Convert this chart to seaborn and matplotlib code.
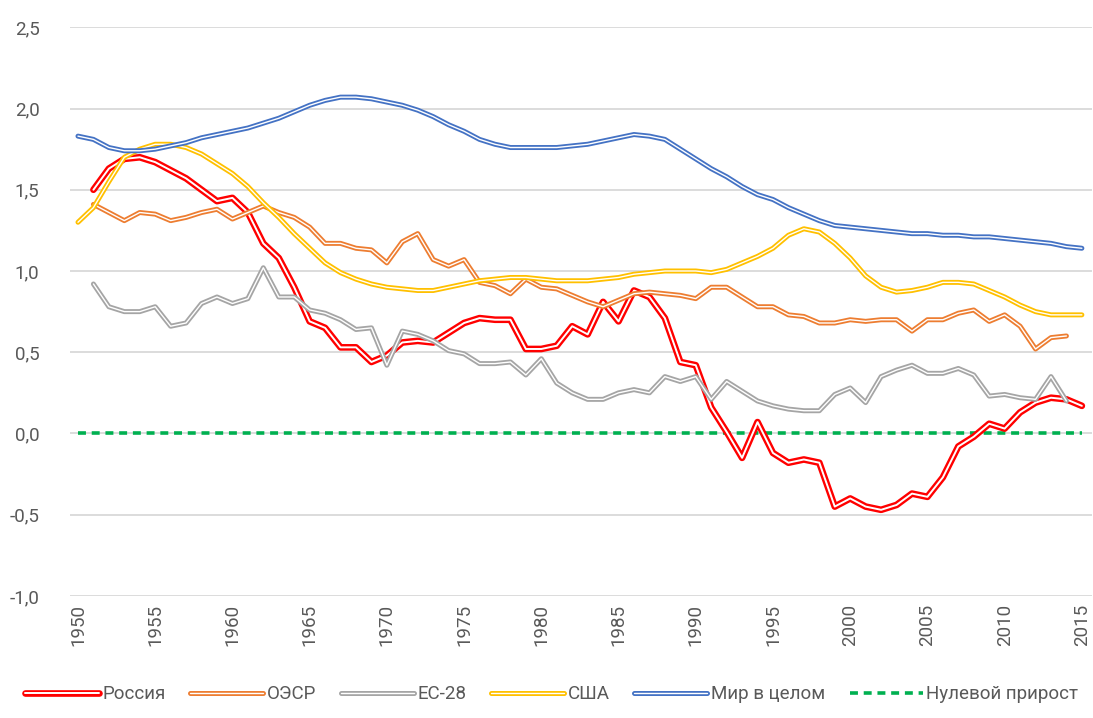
import numpy as np
import pandas as pd
import matplotlib
matplotlib.use("Agg")
import matplotlib.pyplot as plt
import matplotlib.patheffects as pe
import seaborn as sns

years = list(range(1950, 2016))

russia = [np.nan,
          1.50, 1.63, 1.69, 1.70, 1.67, 1.62, 1.57, 1.50, 1.43, 1.45,
          1.36, 1.17, 1.08, 0.90, 0.69, 0.65, 0.53, 0.53, 0.44, 0.48,
          0.56, 0.57, 0.56, 0.62, 0.68, 0.71, 0.70, 0.70, 0.52, 0.52,
          0.54, 0.66, 0.61, 0.81, 0.69, 0.88, 0.84, 0.71, 0.44, 0.42,
          0.16, 0.01, -0.15, 0.07, -0.12, -0.18, -0.16, -0.18, -0.45, -0.40,
          -0.45, -0.47, -0.44, -0.37, -0.39, -0.27, -0.08, -0.02, 0.06, 0.03,
          0.13, 0.19, 0.22, 0.21, 0.17]

oecd = [np.nan,
        1.41, 1.36, 1.31, 1.36, 1.35, 1.31, 1.33, 1.36, 1.38, 1.32,
        1.36, 1.40, 1.36, 1.33, 1.27, 1.17, 1.17, 1.14, 1.13, 1.05,
        1.18, 1.23, 1.07, 1.03, 1.07, 0.93, 0.91, 0.86, 0.95, 0.90,
        0.89, 0.85, 0.81, 0.78, 0.82, 0.86, 0.87, 0.86, 0.85, 0.83,
        0.90, 0.90, 0.84, 0.78, 0.78, 0.73, 0.72, 0.68, 0.68, 0.70,
        0.69, 0.70, 0.70, 0.63, 0.70, 0.70, 0.74, 0.76, 0.69, 0.73,
        0.66, 0.52, 0.59, 0.60, np.nan]

eu28 = [np.nan,
        0.92, 0.78, 0.75, 0.75, 0.78, 0.66, 0.68, 0.80, 0.84, 0.80,
        0.83, 1.02, 0.84, 0.84, 0.76, 0.74, 0.70, 0.64, 0.65, 0.42,
        0.63, 0.61, 0.57, 0.51, 0.49, 0.43, 0.43, 0.44, 0.36, 0.46,
        0.31, 0.25, 0.21, 0.21, 0.25, 0.27, 0.25, 0.35, 0.32, 0.35,
        0.21, 0.32, 0.26, 0.20, 0.17, 0.15, 0.14, 0.14, 0.24, 0.28,
        0.19, 0.35, 0.39, 0.42, 0.37, 0.37, 0.40, 0.36, 0.23, 0.24,
        0.22, 0.21, 0.35, 0.20, np.nan]

usa = [1.30,
       1.39, 1.55, 1.70, 1.75, 1.78, 1.78, 1.76, 1.72, 1.66, 1.60,
       1.52, 1.42, 1.33, 1.23, 1.14, 1.05, 0.99, 0.95, 0.92, 0.90,
       0.89, 0.88, 0.88, 0.90, 0.92, 0.94, 0.95, 0.96, 0.96, 0.95,
       0.94, 0.94, 0.94, 0.95, 0.96, 0.98, 0.99, 1.00, 1.00, 1.00,
       0.99, 1.01, 1.05, 1.09, 1.14, 1.22, 1.26, 1.24, 1.17, 1.08,
       0.97, 0.90, 0.87, 0.88, 0.90, 0.93, 0.93, 0.92, 0.88, 0.84,
       0.79, 0.75, 0.73, 0.73, 0.73]

world = [1.83,
         1.81, 1.76, 1.74, 1.74, 1.75, 1.77, 1.79, 1.82, 1.84, 1.86,
         1.88, 1.91, 1.94, 1.98, 2.02, 2.05, 2.07, 2.07, 2.06, 2.04,
         2.02, 1.99, 1.95, 1.90, 1.86, 1.81, 1.78, 1.76, 1.76, 1.76,
         1.76, 1.77, 1.78, 1.80, 1.82, 1.84, 1.83, 1.81, 1.75, 1.69,
         1.63, 1.58, 1.52, 1.47, 1.44, 1.39, 1.35, 1.31, 1.28, 1.27,
         1.26, 1.25, 1.24, 1.23, 1.23, 1.22, 1.22, 1.21, 1.21, 1.20,
         1.19, 1.18, 1.17, 1.15, 1.14]

zero_growth = [0.0] * len(years)

series_names = ["Россия", "ОЭСР", "ЕС-28", "США", "Мир в целом"]
series_values = [russia, oecd, eu28, usa, world]
series_colors = ["#ff0000", "#ed7d31", "#a5a5a5", "#ffc000", "#4472c4"]
x_ticks = list(range(1950, 2016, 5))
y_ticks = [-1.0, -0.5, 0.0, 0.5, 1.0, 1.5, 2.0, 2.5]

sns.set_style("white")
plt.rcParams["font.family"] = ["Roboto", "DejaVu Sans"]

fig = plt.figure(figsize=(10.93, 7.18), dpi=100)
ax = fig.add_axes([0.064, 0.170, 0.935, 0.792])

# horizontal grid behind everything
for yv in y_ticks:
    ax.axhline(yv, color="#d9d9d9", lw=1.3, zorder=0)

sns.lineplot(x=years, y=zero_growth, ax=ax, color="#00b050", lw=2.6,
             linestyle=(0, (2.2, 1.6)), label="Нулевой прирост", zorder=2)

# Excel-style "double" lines: coloured stroke with a thin white core
for name, vals, col in zip(series_names, series_values, series_colors):
    outer = 4.8 if name == "Россия" else 3.6
    inner = 1.4 if name == "Россия" else 1.0
    df = pd.DataFrame({"year": years, "value": vals}).dropna()
    sns.lineplot(data=df, x="year", y="value", ax=ax, color="white", lw=inner,
                 label=name, zorder=3,
                 path_effects=[pe.Stroke(linewidth=outer, foreground=col),
                               pe.Normal()])

ax.set_xlim(1949.48, 2015.65)
ax.set_ylim(-1.0, 2.5)
ax.set_xticks(x_ticks)
ax.set_xticklabels([str(y) for y in x_ticks], rotation=90)
ax.set_yticks(y_ticks)
ax.set_yticklabels([f"{v:.1f}".replace(".", ",") for v in y_ticks])
ax.tick_params(axis="both", length=0, labelsize=13.5, colors="#595959")
ax.tick_params(axis="y", pad=22)
ax.tick_params(axis="x", pad=6)
ax.set_xlabel("")
ax.set_ylabel("")
sns.despine(ax=ax, left=True, bottom=True)

handles, labels = ax.get_legend_handles_labels()
ax.get_legend().remove()
order = [1, 2, 3, 4, 5, 0]
leg = fig.legend([handles[i] for i in order], [labels[i] for i in order],
                 loc="lower center", bbox_to_anchor=(0.505, -0.003), ncol=6,
                 frameon=False, fontsize=13.5, handlelength=3.9,
                 handletextpad=0.2, columnspacing=1.3)
for t in leg.get_texts():
    t.set_color("#595959")

fig.savefig("out.png", dpi=100)
